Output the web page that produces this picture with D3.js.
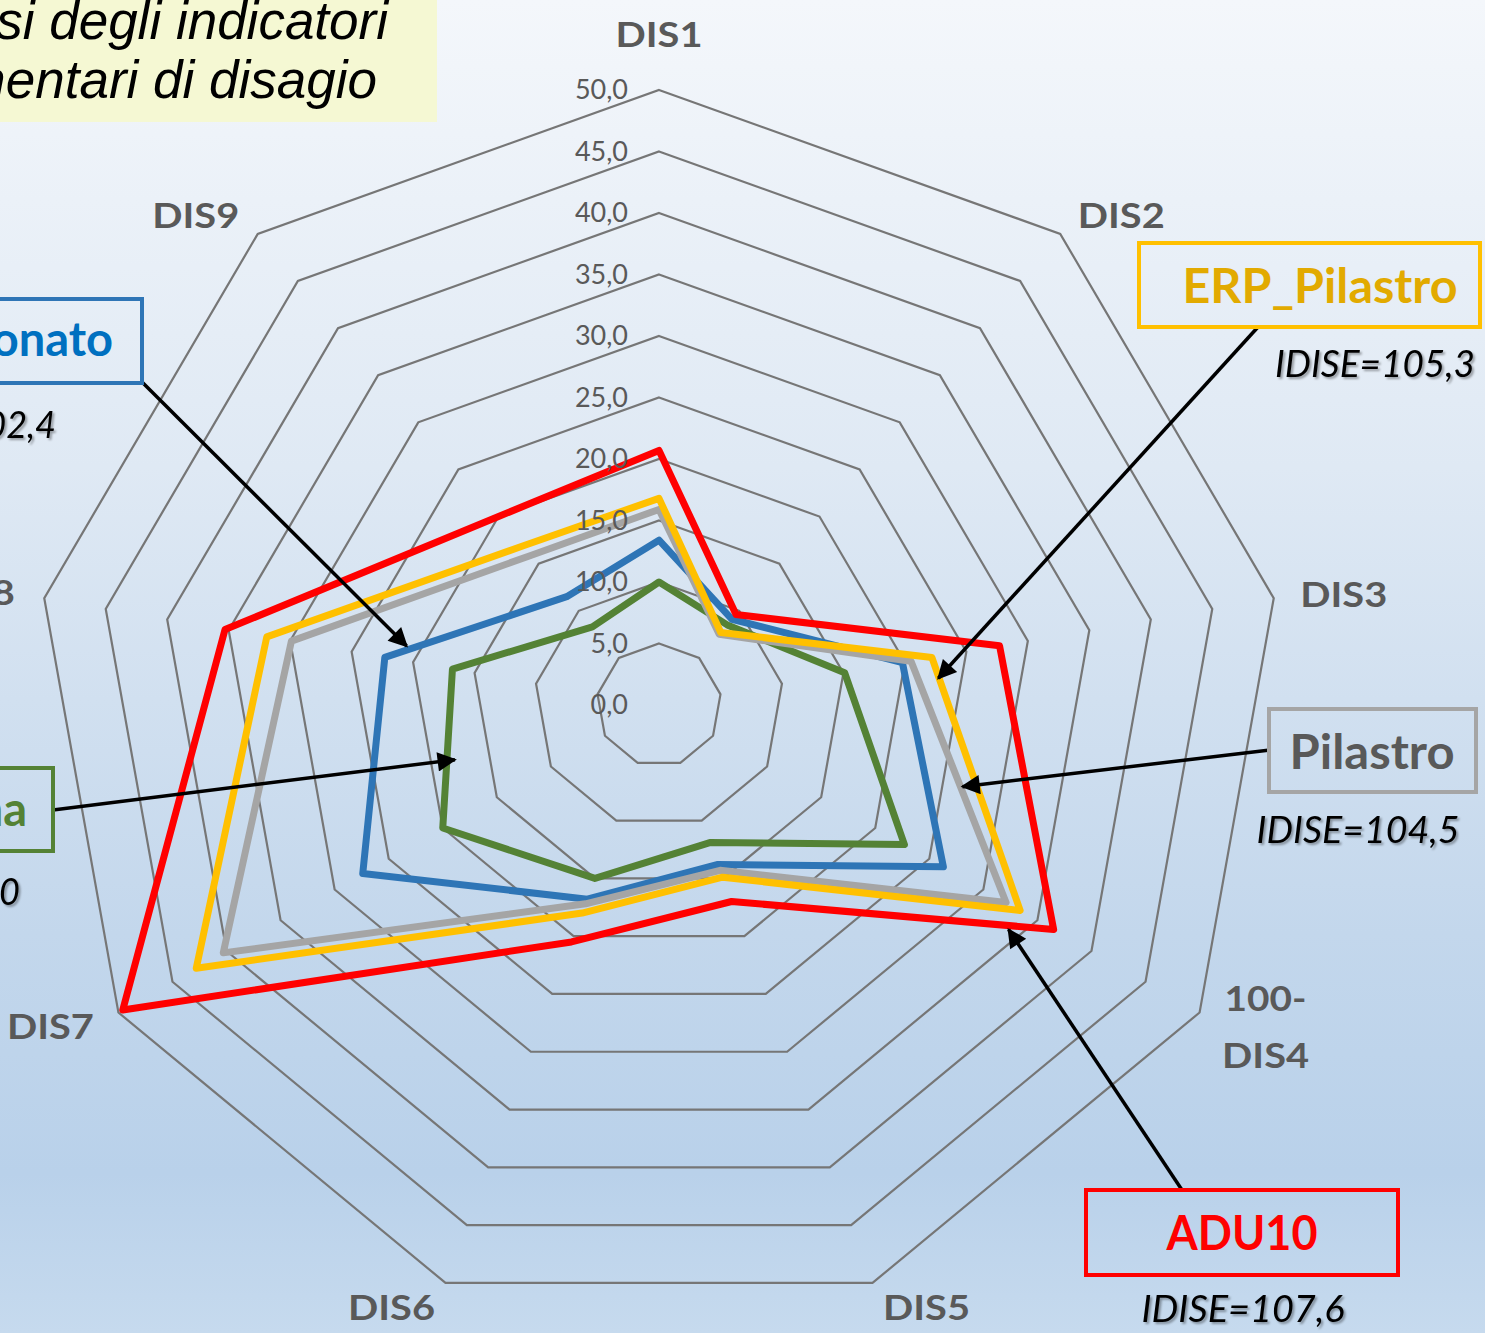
<!DOCTYPE html>
<html><head><meta charset="utf-8">
<script src="https://cdn.jsdelivr.net/npm/d3@7"></script>
<style>body{margin:0;overflow:hidden;background:#fff} svg{display:block}</style>
</head><body>
<svg id="chart" width="1485" height="1333"></svg>
<script>
// ---------- DATA ----------
const categories = ["DIS1","DIS2","DIS3","100-DIS4","DIS5","DIS6","DIS7","DIS8","DIS9"];
const tickValues = [0,5,10,15,20,25,30,35,40,45,50];
const tickLabels = ["0,0","5,0","10,0","15,0","20,0","25,0","30,0","35,0","40,0","45,0","50,0"];
const seriesNames = ["Bolognina","San Donato","Pilastro","ERP_Pilastro","ADU10"];
const bologninaValues   = [10.0, 8.5, 15.1, 22.7, 11.9, 15.0, 20.0, 16.8,  8.3];
const sanDonatoValues   = [13.4, 9.1, 19.8, 26.3, 13.8, 16.8, 27.4, 22.3, 11.5];
const pilastroValues    = [15.9, 7.5, 20.5, 32.1, 14.3, 17.2, 40.3, 29.9, 15.9];
const erpPilastroValues = [16.8, 7.7, 22.2, 33.4, 14.9, 18.0, 42.8, 31.9, 16.9];
const adu10Values       = [20.7, 9.6, 27.7, 36.5, 17.0, 20.5, 49.6, 35.3, 20.0];
const idiseLabels = ["IDISE=100,0","IDISE=102,4","IDISE=104,5","IDISE=105,3","IDISE=107,6"];
const titleLines = ["Analisi degli indicatori","elementari di disagio"];

// ---------- LAYOUT / STYLE ----------
const W = 1485, H = 1333;
const cx = 659, cy = 705, R = 615, xStretch = 1.015;
const seriesColors = ["#548235","#2E75B6","#A5A5A5","#FFC000","#FF0000"];
const labelTextColors = ["#548235","#0070C0","#595959","#E2AA00","#FF0000"];
const seriesValues = [bologninaValues, sanDonatoValues, pilastroValues, erpPilastroValues, adu10Values];
const annot = [
  {box:[-300,768,353,83], text:{x:27,y:826,anchor:"end"}, idise:{x:20,y:905,anchor:"end"}, from:[53,810], seg:[6,0.43], off:[8,0]},
  {box:[-300,299,442,84], text:{x:113,y:356,anchor:"end"}, idise:{x:56,y:438,anchor:"end"}, from:[142,382], seg:[7,0.12], off:[0,-4]},
  {box:[1269,709,207,83], text:{x:1372,y:769,anchor:"middle",len:165}, idise:{x:1358,y:843,anchor:"middle",len:203}, from:[1270,750], seg:[2,0.52], off:[2,0]},
  {box:[1139,243,341,84], text:{x:1320,y:303,anchor:"middle",len:275}, idise:{x:1375,y:377,anchor:"middle",len:200}, from:[1258,327], seg:[2,0.05], off:[2,8]},
  {box:[1086,1190,312,85], text:{x:1242,y:1250,anchor:"middle",len:151}, idise:{x:1243,y:1322,anchor:"middle",len:203}, from:[1182,1190], seg:[3,0.14], off:[0,4]}
];
const axisLabelOffsets = [[0,-43],[61,-6],[70,9],[66,-2],[54,37],[-54,37],[-68,26],[-73,7],[-62,-6]];

// ---------- DRAW ----------
const svg = d3.select("#chart");
const defs = svg.append("defs");
const grad = defs.append("linearGradient").attr("id","bg").attr("x1",0).attr("y1",0).attr("x2",0).attr("y2",1);
[["0","#F4F7FB"],["0.35","#DFE9F4"],["0.7","#C3D7EC"],["0.88","#B9D1EA"],["1","#C6DAEE"]]
  .forEach(([o,c]) => grad.append("stop").attr("offset",o).attr("stop-color",c));
const marker = defs.append("marker").attr("id","arrow").attr("viewBox","0 0 10 10")
  .attr("refX",9).attr("refY",5).attr("markerWidth",6.5).attr("markerHeight",5.5)
  .attr("markerUnits","strokeWidth").attr("orient","auto");
marker.append("path").attr("d","M0,0 L10,5 L0,10 Z").attr("fill","#000");
const sh = defs.append("filter").attr("id","shadow").attr("x","-10%").attr("y","-20%").attr("width","130%").attr("height","160%");
sh.append("feDropShadow").attr("dx",2).attr("dy",2).attr("stdDeviation",1.2).attr("flood-color","#000").attr("flood-opacity",0.35);

svg.append("rect").attr("width",W).attr("height",H).attr("fill","url(#bg)");

// title box
svg.append("rect").attr("x",0).attr("y",0).attr("width",437).attr("height",122).attr("fill","#F5F8D3");
svg.append("text").attr("x",388).attr("y",39).attr("text-anchor","end")
  .attr("font-family","Liberation Sans, Arial, sans-serif").attr("font-style","italic")
  .attr("font-size",53).attr("fill","#000").text(titleLines[0]);
svg.append("text").attr("x",377).attr("y",98).attr("text-anchor","end")
  .attr("font-family","Liberation Sans, Arial, sans-serif").attr("font-style","italic")
  .attr("font-size",53).attr("fill","#000").text(titleLines[1]);

const rScale = d3.scaleLinear().domain([0,50]).range([0,R]);
const angle = d3.scalePoint().domain(categories).range([0, 2*Math.PI*(categories.length-1)/categories.length]);
function pt(cat, v){
  const a = angle(cat), r = rScale(v);
  return [cx + r*Math.sin(a)*xStretch, cy - r*Math.cos(a)];
}
const lineGen = d3.line().curve(d3.curveLinearClosed);

// grid rings
const g = svg.append("g");
g.selectAll("path.ring").data(tickValues.filter(v=>v>0)).join("path")
  .attr("class","ring")
  .attr("d", v => lineGen(categories.map(c => pt(c, v))))
  .attr("fill","none").attr("stroke","#767676").attr("stroke-width",2.2);

// series
g.selectAll("path.series").data(seriesValues).join("path")
  .attr("class","series")
  .attr("d", vals => lineGen(categories.map((c,i) => pt(c, vals[i]))))
  .attr("fill","none").attr("stroke",(d,i)=>seriesColors[i]).attr("stroke-width",7)
  .attr("stroke-linejoin","round");

// tick labels
g.selectAll("text.tick").data(tickValues).join("text")
  .attr("class","tick")
  .attr("x", 628).attr("y", v => cy - rScale(v) + 9)
  .attr("text-anchor","end").attr("font-family","Lato, Open Sans, sans-serif")
  .attr("font-size",27).attr("fill","#595959")
  .text((v,i)=>tickLabels[i]);

// axis labels
categories.forEach((c,i) => {
  const [vx,vy] = pt(c, 50);
  const [ox,oy] = axisLabelOffsets[i];
  const lines = c.includes("-") ? [c.slice(0,c.indexOf("-")+1), c.slice(c.indexOf("-")+1)] : [c];
  lines.forEach((ln,j) => {
    svg.append("text").attr("x", vx+ox).attr("y", vy+oy+j*57)
      .attr("text-anchor","middle").attr("font-family","Lato, Open Sans, sans-serif")
      .attr("font-weight","bold").attr("font-size",35).attr("fill","#595959")
      .attr("textLength", ln.length===4 ? (ln==="100-"?82:87) : null)
      .attr("lengthAdjust","spacingAndGlyphs")
      .text(ln);
  });
});

// annotations
annot.forEach((a,i) => {
  const vals = seriesValues[i];
  const k = a.seg[0], t = a.seg[1];
  const p1 = pt(categories[k], vals[k]);
  const k2 = (k+1) % categories.length;
  const p2 = pt(categories[k2], vals[k2]);
  const tip = [p1[0] + (p2[0]-p1[0])*t + a.off[0], p1[1] + (p2[1]-p1[1])*t + a.off[1]];
  svg.append("line").attr("x1",a.from[0]).attr("y1",a.from[1])
    .attr("x2",tip[0]).attr("y2",tip[1])
    .attr("stroke","#000").attr("stroke-width",3.5).attr("marker-end","url(#arrow)");
  svg.append("rect").attr("x",a.box[0]).attr("y",a.box[1]).attr("width",a.box[2]).attr("height",a.box[3])
    .attr("fill","none").attr("stroke",seriesColors[i]).attr("stroke-width",4);
  const tt = svg.append("text").attr("x",a.text.x).attr("y",a.text.y).attr("text-anchor",a.text.anchor)
    .attr("font-family","Lato, Open Sans, sans-serif").attr("font-weight","bold").attr("font-size",47)
    .attr("fill",labelTextColors[i]).text(seriesNames[i]);
  if (a.text.len) tt.attr("textLength",a.text.len).attr("lengthAdjust","spacingAndGlyphs");
  const it = svg.append("text").attr("x",a.idise.x).attr("y",a.idise.y).attr("text-anchor",a.idise.anchor)
    .attr("font-family","Lato, Open Sans, sans-serif").attr("font-style","italic").attr("font-size",36)
    .attr("fill","#000").attr("filter","url(#shadow)").text(idiseLabels[i]);
  if (a.idise.len) it.attr("textLength",a.idise.len).attr("lengthAdjust","spacingAndGlyphs");
});
</script>
</body></html>
